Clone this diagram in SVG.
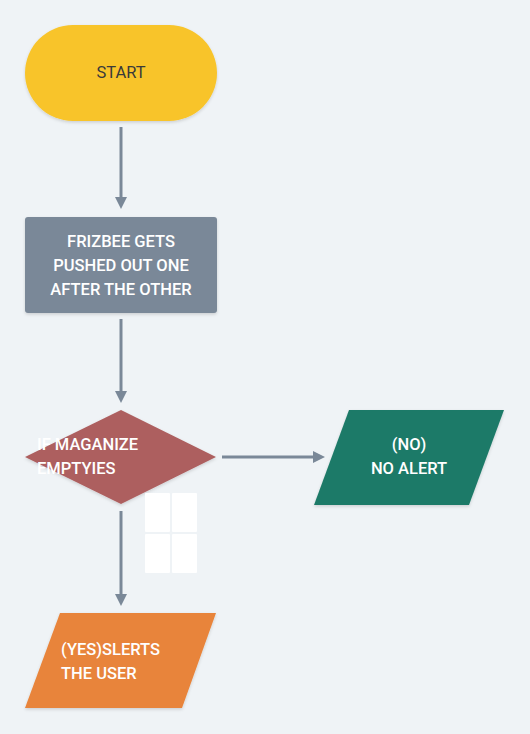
<svg xmlns="http://www.w3.org/2000/svg" width="530" height="734" viewBox="0 0 530 734">
<style>
.t{font-family:Roboto,"Liberation Sans",sans-serif;font-size:16.5px;font-weight:500;fill:#ffffff}
.c{stroke:#7a8898;stroke-width:3;fill:none}
</style>
<defs>
<marker id="ah" markerWidth="4" markerHeight="4" refX="2" refY="2" orient="auto" markerUnits="strokeWidth" viewBox="0 0 4 4">
<path d="M0,0 L4,2 L0,4 z" fill="#7a8898"/>
</marker>
<filter id="sh" x="-10%" y="-10%" width="120%" height="130%">
<feDropShadow dx="0" dy="1.5" stdDeviation="1.5" flood-color="#000" flood-opacity="0.15"/>
</filter>
</defs>
<rect width="530" height="734" fill="#eff3f6"/>
<g id="connectors">
<line class="c" x1="121" y1="127" x2="121" y2="203" marker-end="url(#ah)"/>
<line class="c" x1="121" y1="319" x2="121" y2="397" marker-end="url(#ah)"/>
<line class="c" x1="222" y1="457" x2="319" y2="457" marker-end="url(#ah)"/>
<line class="c" x1="121" y1="511" x2="121" y2="600" marker-end="url(#ah)"/>
</g>
<g id="start">
<rect x="25" y="25" width="192" height="96" rx="48" fill="#f8c42a" filter="url(#sh)"/>
<text class="t" x="121" y="78" text-anchor="middle" style="fill:#3a3a3a;font-weight:400">START</text>
</g>
<g id="process">
<rect x="25" y="217" width="192" height="96" rx="3" fill="#7a8898" filter="url(#sh)"/>
<text class="t" x="121" y="247" text-anchor="middle">FRIZBEE GETS</text>
<text class="t" x="121" y="271" text-anchor="middle">PUSHED OUT ONE</text>
<text class="t" x="121" y="295" text-anchor="middle">AFTER THE OTHER</text>
</g>
<g id="decision">
<polygon points="121,410 216,457 121,504 25,457" fill="#ad5f5f" filter="url(#sh)"/>
<text class="t" x="37" y="450">IF MAGANIZE</text>
<text class="t" x="37" y="474">EMPTYIES</text>
</g>
<g id="no-alert">
<polygon points="349,410 504,410 469,505 314,505" fill="#1f7a68" filter="url(#sh)"/>
<text class="t" x="409" y="450" text-anchor="middle">(NO)</text>
<text class="t" x="409" y="474" text-anchor="middle">NO ALERT</text>
</g>
<g id="grid">
<rect x="145" y="493" width="25" height="39" rx="1" fill="#ffffff"/>
<rect x="172" y="493" width="25" height="39" rx="1" fill="#ffffff"/>
<rect x="145" y="534" width="25" height="39" rx="1" fill="#ffffff"/>
<rect x="172" y="534" width="25" height="39" rx="1" fill="#ffffff"/>
</g>
<g id="alerts-user">
<polygon points="60,613 216,613 182,708 25,708" fill="#e8843a" filter="url(#sh)"/>
<text class="t" x="61" y="655">(YES)SLERTS</text>
<text class="t" x="61" y="679">THE USER</text>
</g>
</svg>
